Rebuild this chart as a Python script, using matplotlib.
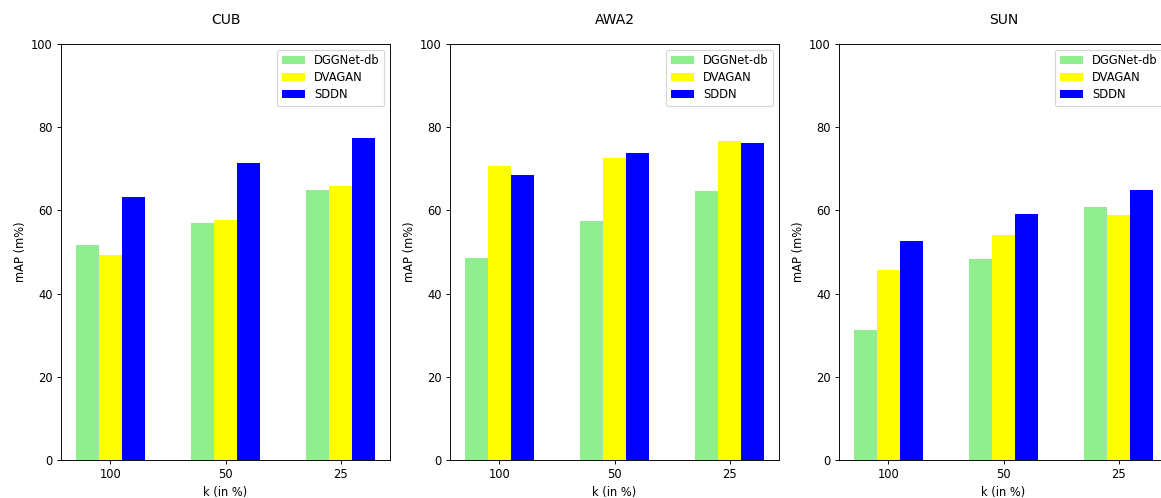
import numpy as np
import matplotlib.pyplot as plt

datasets = ['CUB', 'AWA2', 'SUN']
k_labels = ['100', '50', '25']
methods = ['DGGNet-db', 'DVAGAN', 'SDDN']
colors = ['lightgreen', 'yellow', 'blue']

cub_dggnet = [51.7, 57.0, 64.9]
cub_dvagan = [49.3, 57.7, 65.9]
cub_sddn = [63.2, 71.4, 77.4]

awa2_dggnet = [48.6, 57.5, 64.7]
awa2_dvagan = [70.7, 72.6, 76.7]
awa2_sddn = [68.5, 73.8, 76.2]

sun_dggnet = [31.2, 48.3, 60.9]
sun_dvagan = [45.7, 54.0, 58.8]
sun_sddn = [52.7, 59.1, 65.0]

results = {
    'CUB': [cub_dggnet, cub_dvagan, cub_sddn],
    'AWA2': [awa2_dggnet, awa2_dvagan, awa2_sddn],
    'SUN': [sun_dggnet, sun_dvagan, sun_sddn],
}

# original looks like a scaled-down render, so use a lower dpi
DPI = 83
W, H = 1161, 498
fig = plt.figure(figsize=(W / DPI, H / DPI), dpi=DPI)

x = np.arange(len(k_labels))
width = 0.2

for i, name in enumerate(datasets):
    left = 61 + i * 389
    ax = fig.add_axes([left / W, (H - 460) / H, 329 / W, 416 / H])
    for j, (m, c) in enumerate(zip(methods, colors)):
        ax.bar(x + (j - 1) * width, results[name][j], width, color=c, label=m)
    ax.set_xticks(x)
    ax.set_xticklabels(k_labels)
    ax.set_ylim(0, 100)
    ax.set_xlabel('k (in %)')
    ax.set_ylabel('mAP (m%)')
    ax.set_title(name, pad=17.5)
    ax.legend(loc='upper right', labelspacing=0.35)

fig.savefig('out.png', dpi=DPI)
